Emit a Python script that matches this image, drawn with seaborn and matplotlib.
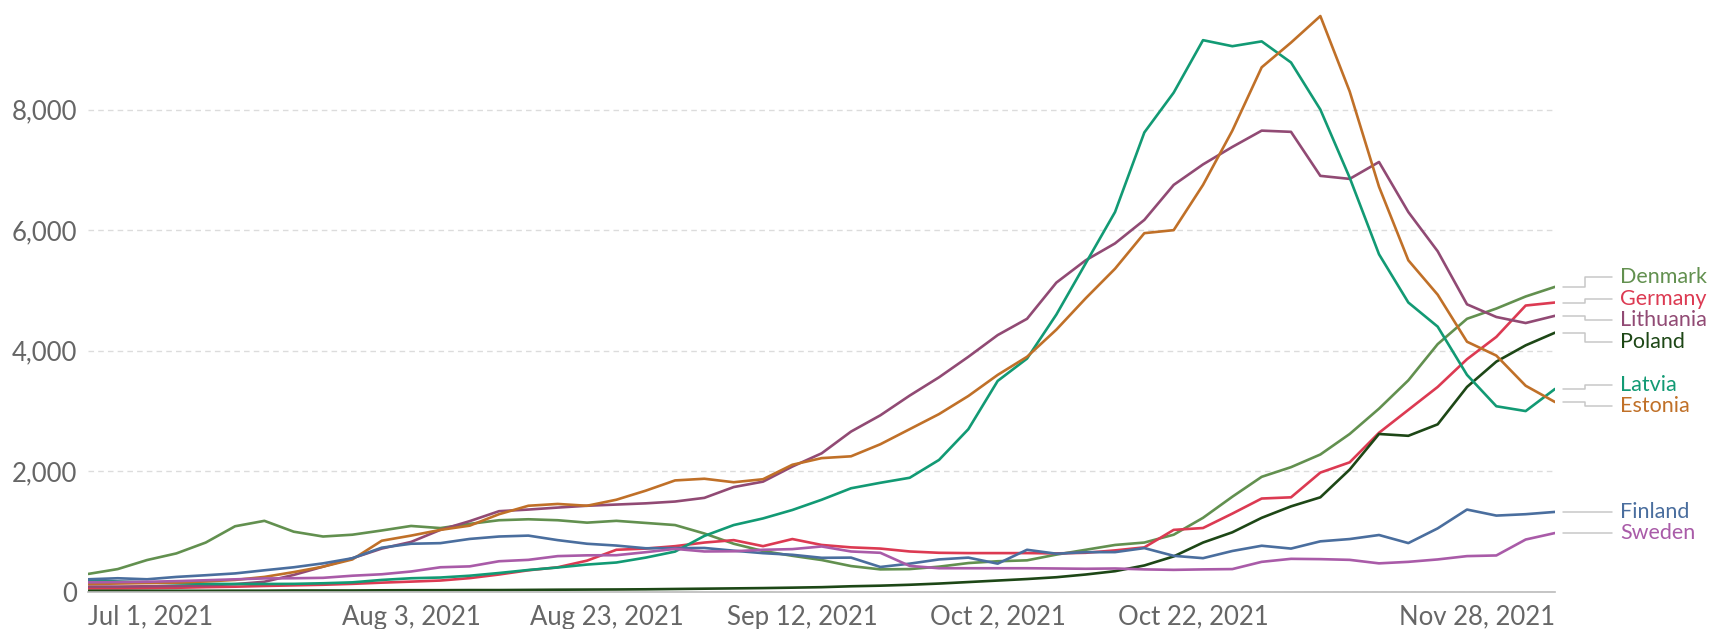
import pandas as pd
import matplotlib
matplotlib.use('Agg')
import matplotlib.pyplot as plt
import matplotlib.transforms as mtransforms
from matplotlib.ticker import FuncFormatter
import seaborn as sns

sns.set_style('white')
plt.rcParams['font.family'] = ['Lato', 'DejaVu Sans']

# ── data: readings every 3 days, Jul 1 – Nov 28 2021 ─────────────────────
DATES = pd.date_range('2021-07-01', '2021-11-28', freq='3D')

denmark = [300, 380, 530, 640, 820, 1090, 1180, 1000, 920, 950, 1020, 1095, 1060,
           1130, 1190, 1206, 1190, 1150, 1180, 1145, 1110, 970, 800, 680, 600, 530,
           430, 375, 380, 420, 480, 510, 525, 620, 700, 780, 820, 950, 1230, 1580,
           1910, 2070, 2280, 2620, 3040, 3510, 4110, 4530, 4700, 4900, 5060]
germany = [60, 60, 65, 70, 80, 88, 100, 110, 120, 135, 155, 172, 190, 230, 290, 360,
           410, 520, 700, 720, 760, 820, 860, 760, 878, 780, 740, 720, 672, 650, 645,
           645, 645, 640, 650, 690, 740, 1030, 1061, 1300, 1550, 1570, 1980, 2150,
           2640, 3020, 3400, 3860, 4230, 4750, 4800]
lithuania = [90, 90, 95, 100, 110, 130, 170, 283, 420, 560, 720, 830, 1030, 1175,
             1340, 1367, 1400, 1430, 1450, 1470, 1500, 1561, 1740, 1830, 2080, 2300,
             2660, 2930, 3257, 3560, 3900, 4260, 4530, 5130, 5500, 5780, 6170, 6750,
             7090, 7380, 7650, 7630, 6900, 6850, 7130, 6300, 5650, 4770, 4560, 4460, 4580]
poland = [20, 20, 20, 20, 20, 22, 22, 25, 25, 25, 28, 30, 30, 32, 32, 35, 38, 40, 42,
          45, 50, 55, 60, 65, 72, 80, 95, 105, 120, 140, 165, 190, 215, 245, 290, 345,
          440, 590, 820, 990, 1230, 1420, 1570, 2030, 2620, 2590, 2780, 3400, 3820,
          4090, 4300]
latvia = [190, 175, 160, 144, 135, 133, 133, 135, 145, 160, 200, 228, 240, 270, 315,
          365, 406, 455, 489, 570, 670, 930, 1110, 1220, 1360, 1530, 1720, 1811, 1894,
          2190, 2700, 3500, 3870, 4600, 5450, 6300, 7620, 8280, 9150, 9050, 9130, 8780,
          8000, 6870, 5600, 4800, 4400, 3600, 3080, 3000, 3367]
estonia = [133, 140, 148, 155, 175, 200, 250, 330, 420, 540, 850, 935, 1030, 1100,
           1290, 1430, 1460, 1430, 1530, 1680, 1850, 1878, 1820, 1870, 2110, 2220, 2250,
           2450, 2700, 2950, 3250, 3600, 3900, 4350, 4870, 5360, 5950, 6000, 6750, 7650,
           8700, 9110, 9550, 8300, 6720, 5500, 4930, 4150, 3920, 3420, 3150]
finland = [211, 228, 211, 250, 278, 308, 360, 410, 475, 560, 735, 800, 810, 880, 920,
           935, 860, 800, 770, 725, 728, 730, 685, 644, 617, 567, 570, 415, 470, 540,
           570, 470, 700, 635, 660, 661, 728, 600, 561, 680, 767, 720, 840, 878, 945,
           811, 1055, 1367, 1267, 1290, 1328]
sweden = [160, 165, 170, 180, 195, 210, 225, 228, 235, 270, 294, 340, 410, 425, 510,
          533, 595, 608, 610, 660, 715, 672, 675, 700, 711, 755, 672, 650, 433, 394,
          394, 394, 394, 390, 385, 390, 375, 367, 375, 380, 500, 550, 545, 533, 475,
          500, 540, 595, 606, 870, 978]

COUNTRIES = ['Denmark', 'Germany', 'Lithuania', 'Poland',
             'Latvia', 'Estonia', 'Finland', 'Sweden']
SERIES = [denmark, germany, lithuania, poland, latvia, estonia, finland, sweden]
COLORS = {
    'Denmark':   '#62904f',
    'Germany':   '#dc3a52',
    'Lithuania': '#914a74',
    'Poland':    '#1d4716',
    'Latvia':    '#129a74',
    'Estonia':   '#c07028',
    'Finland':   '#4a6e9e',
    'Sweden':    '#a95ba8',
}

wide = pd.DataFrame(dict(zip(COUNTRIES, SERIES)), index=DATES)
wide.index.name = 'date'
long = wide.reset_index().melt(id_vars='date', var_name='country', value_name='cases')

# ── plot ────────────────────────────────────────────────────────────────
W, H = 1712, 629
fig = plt.figure(figsize=(W / 100, H / 100), dpi=100)
ax = fig.add_axes([88.4 / W, 37 / H, 1466.6 / W, 585 / H])

sns.lineplot(data=long, x='date', y='cases', hue='country', palette=COLORS,
             linewidth=1.9, legend=False, ax=ax)

ax.set_xlim(DATES[0], DATES[-1])
ax.set_ylim(0, 9700)
ax.set_xlabel('')
ax.set_ylabel('')

for s in ['top', 'right', 'left']:
    ax.spines[s].set_visible(False)
ax.spines['bottom'].set_color('#bbbbbb')
ax.spines['bottom'].set_linewidth(1.2)

ax.set_yticks([0, 2000, 4000, 6000, 8000])
ax.yaxis.set_major_formatter(FuncFormatter(lambda v, _: f'{v:,.0f}'))
ax.yaxis.grid(True, ls=(0, (4, 3)), color='#dcdcdc', lw=1)
ax.xaxis.grid(False)
ax.tick_params(axis='y', length=0, pad=8, labelsize=18.5, labelcolor='#666666')

TICK_DATES = pd.to_datetime(['2021-07-01', '2021-08-03', '2021-08-23', '2021-09-12',
                             '2021-10-02', '2021-10-22', '2021-11-28'])
ax.set_xticks(TICK_DATES)
ax.set_xticklabels([f'{d:%b} {d.day}, {d.year}' for d in TICK_DATES])
ax.tick_params(axis='x', length=6, width=1.2, color='#bbbbbb', pad=3,
               labelsize=18.5, labelcolor='#666666')
xl = ax.get_xticklabels()
xl[0].set_ha('left')
xl[-1].set_ha('right')

# ── end labels, spread apart so they do not overlap ─────────────────────
GAP = 355
ends = sorted([(s[-1], c) for c, s in zip(COUNTRIES, SERIES)], reverse=True)
groups = [[e] for e in ends]
moved = True
while moved:
    moved = False
    for i in range(len(groups) - 1):
        a, b = groups[i], groups[i + 1]
        ca = sum(v for v, _ in a) / len(a)
        cb = sum(v for v, _ in b) / len(b)
        low_a = ca - (len(a) - 1) * GAP / 2
        high_b = cb + (len(b) - 1) * GAP / 2
        if low_a - high_b < GAP:
            groups[i] = a + b
            del groups[i + 1]
            moved = True
            break
label_y = {}
for g in groups:
    c = sum(v for v, _ in g) / len(g)
    top = c + (len(g) - 1) * GAP / 2
    for k, (_, name) in enumerate(g):
        label_y[name] = top - k * GAP

trans = mtransforms.blended_transform_factory(ax.transAxes, ax.transData)
px = 1 / 1466.6
for name, s in zip(COUNTRIES, SERIES):
    y0, y1 = s[-1], label_y[name]
    ax.plot([1 + 8 * px, 1 + 30 * px, 1 + 30 * px, 1 + 57 * px], [y0, y0, y1, y1],
            transform=trans, clip_on=False, color='#c8c8c8', lw=1.1)
    ax.text(1 + 65 * px, y1, name, transform=trans, color=COLORS[name],
            fontsize=15.5, va='center', ha='left')

plt.savefig('out.png', dpi=100)
plt.close()
